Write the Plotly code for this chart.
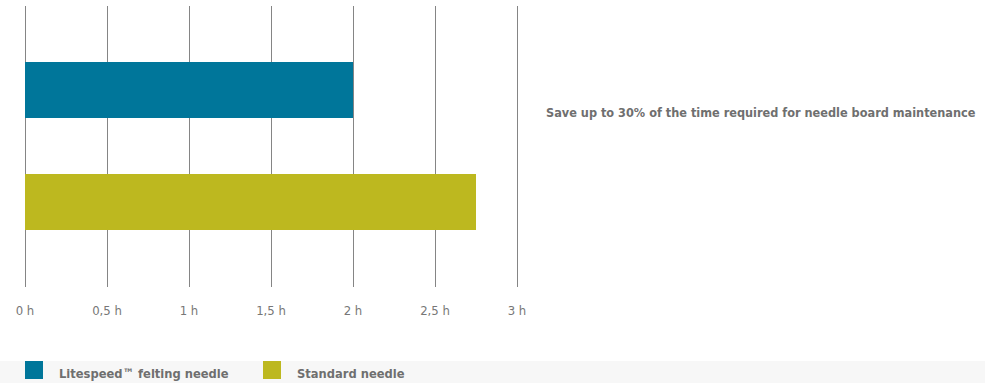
import plotly.graph_objects as go

# Data
categories = ["Litespeed™ felting needle", "Standard needle"]
hours = [2.0, 2.75]
colors = ["#00769a", "#bdb81f"]
tick_vals = [0, 0.5, 1, 1.5, 2, 2.5, 3]
tick_text = ["0 h", "0,5 h", "1 h", "1,5 h", "2 h", "2,5 h", "3 h"]
note = "Save up to 30% of the time required for needle board maintenance"

FONT = "Liberation Sans Narrow, DejaVu Sans Condensed, Roboto Condensed, Arial Narrow, sans-serif"

W, H = 985, 383
ML, MT = 25, 6
PLOT_B = 287
plot_h = PLOT_B - MT
MB = H - PLOT_B
X_MAX = 3.02
X_END_PX = 25 + (517 - 25) * X_MAX / 3

fig = go.Figure()
fig.add_trace(go.Bar(
    y=categories, x=hours, orientation="h",
    marker=dict(color=colors, line=dict(width=0)),
    width=0.5, showlegend=False, hoverinfo="x+y",
))

def px_x(px):
    return (px - ML) / (W - ML)

def px_y(py):
    return (PLOT_B - py) / plot_h

# background band behind legend
fig.add_shape(type="rect", xref="paper", yref="paper",
              x0=px_x(0), x1=px_x(W), y0=px_y(361), y1=px_y(H),
              fillcolor="#f7f7f7", line=dict(width=0), layer="below")

# manual legend
legend_pos = [(25, 57), (263, 295)]
for (sx, tx), name, c in zip(legend_pos, categories, colors):
    fig.add_shape(type="rect", xref="paper", yref="paper",
                  x0=px_x(sx), x1=px_x(sx + 18), y0=px_y(379), y1=px_y(361),
                  fillcolor=c, line=dict(width=0))
    fig.add_annotation(xref="paper", yref="paper", x=px_x(tx), y=px_y(373),
                       text="<b>%s</b>" % name, showarrow=False,
                       xanchor="left", yanchor="middle",
                       font=dict(family=FONT, size=12.8, color="#6f6f6f"))

fig.add_annotation(xref="paper", yref="paper", x=px_x(978), y=px_y(112),
                   text="<b>%s</b>" % note, showarrow=False,
                   xanchor="right", yanchor="middle",
                   font=dict(family=FONT, size=12.6, color="#6f6f6f"))

fig.update_layout(
    width=W, height=H, autosize=False,
    margin=dict(l=ML, r=0, t=MT, b=MB, pad=0, autoexpand=False),
    paper_bgcolor="white", plot_bgcolor="white",
    font=dict(family=FONT, size=13, color="#777777"),
    xaxis=dict(domain=[0, (X_END_PX - ML) / (W - ML)], range=[0, X_MAX],
               tickvals=tick_vals, ticktext=tick_text, automargin=False,
               showgrid=True, gridcolor="#858585", gridwidth=1,
               zeroline=True, zerolinecolor="#858585", zerolinewidth=1,
               showline=False, ticks="", ticklen=0,
               tickfont=dict(family=FONT, size=13, color="#777777")),
    yaxis=dict(range=[1.759, -0.75], showticklabels=False, showgrid=False,
               automargin=False,
               zeroline=False, showline=False, ticks=""),
    bargap=0,
)
fig.update_xaxes(ticklabelstandoff=14)

fig.write_html("out.html")
